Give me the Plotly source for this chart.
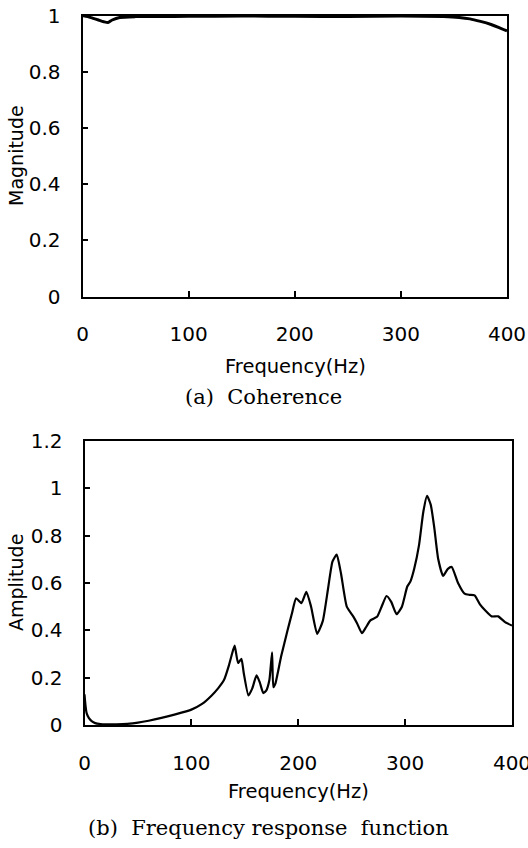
import plotly.graph_objects as go

# ---- Data ----
coh_freq = [0, 5, 10, 15, 20, 24, 28, 35, 50, 100, 150, 200, 250, 300, 340, 355, 365, 375, 385, 392, 400]
coh_mag = [1.0, 0.996, 0.99, 0.984, 0.978, 0.975, 0.984, 0.993, 0.996, 0.997, 0.998, 0.997, 0.996, 0.998,
           0.996, 0.993, 0.988, 0.979, 0.968, 0.958, 0.945]

frf_freq = [0, 1, 2, 4, 7, 10, 15, 20, 30, 40, 50, 60, 72, 85, 100, 110, 119, 125, 130.5, 135, 138, 140.5,
            143.7, 146.8, 149, 153.4, 157, 161, 164, 167.3, 170, 173, 175.5, 176.7, 178.6, 184, 190, 194,
            198, 203, 207.6, 212, 217.7, 223, 228, 232, 236, 240, 245.4, 251.7, 255, 259.6, 263, 267.5,
            273.7, 278, 282.6, 287, 292, 297, 302, 305, 308.5, 313, 317, 320.5, 324, 327.3, 331, 335.5,
            340, 343.6, 349.5, 355.6, 360, 365, 370, 374.6, 381, 387, 393.5, 400]
frf_amp = [0.13, 0.08, 0.05, 0.03, 0.015, 0.008, 0.004, 0.003, 0.003, 0.005, 0.01, 0.018, 0.03, 0.045,
           0.065, 0.089, 0.125, 0.155, 0.19, 0.25, 0.3, 0.335, 0.262, 0.28, 0.22, 0.125, 0.155, 0.21,
           0.18, 0.135, 0.145, 0.19, 0.307, 0.16, 0.175, 0.29, 0.4, 0.47, 0.535, 0.515, 0.563, 0.5,
           0.385, 0.44, 0.58, 0.69, 0.72, 0.64, 0.5, 0.457, 0.43, 0.388, 0.41, 0.442, 0.457, 0.5,
           0.545, 0.52, 0.468, 0.5, 0.585, 0.607, 0.66, 0.76, 0.9, 0.968, 0.93, 0.833, 0.7, 0.63,
           0.66, 0.668, 0.6, 0.555, 0.55, 0.548, 0.51, 0.486, 0.459, 0.459, 0.435, 0.42]

x_ticks = [0, 100, 200, 300, 400]
y1_ticks = [0, 0.2, 0.4, 0.6, 0.8, 1]
y1_labels = ["0", "0.2", "0.4", "0.6", "0.8", "1"]
y2_ticks = [0, 0.2, 0.4, 0.6, 0.8, 1, 1.2]
y2_labels = ["0", "0.2", "0.4", "0.6", "0.8", "1", "1.2"]

W, H = 528, 848
SANS = "DejaVu Sans"
SERIF = "DejaVu Serif"


def fx(px):
    return px / W


def fy(py):
    return 1 - py / H


fig = go.Figure()
fig.add_trace(go.Scatter(x=coh_freq, y=coh_mag, mode="lines",
                         line=dict(color="black", width=3, shape="spline", smoothing=0.6),
                         xaxis="x", yaxis="y", showlegend=False, cliponaxis=False))
fig.add_trace(go.Scatter(x=frf_freq, y=frf_amp, mode="lines",
                         line=dict(color="black", width=2.2, shape="spline", smoothing=0.5),
                         xaxis="x2", yaxis="y2", showlegend=False))

axis_common = dict(showline=True, linecolor="black", linewidth=1.8, mirror=True, ticks="inside",
                   ticklen=6, tickwidth=1.5, tickcolor="black", showgrid=False, zeroline=False,
                   automargin=False, ticklabeloverflow="allow",
                   tickfont=dict(family=SANS, size=20, color="black"))

fig.update_layout(
    width=W, height=H, margin=dict(l=0, r=0, t=0, b=0),
    paper_bgcolor="white", plot_bgcolor="white",
    xaxis=dict(domain=[fx(82.5), fx(507)], anchor="y", range=[0, 400], tickvals=x_ticks,
               ticklabelstandoff=19, **axis_common),
    yaxis=dict(domain=[fy(296.5), fy(15.5)], anchor="x", range=[0, 1], tickvals=y1_ticks,
               ticktext=y1_labels, ticklabelstandoff=16, **axis_common),
    xaxis2=dict(domain=[fx(84.5), fx(512)], anchor="y2", range=[0, 400], tickvals=x_ticks,
                ticklabelstandoff=19, **axis_common),
    yaxis2=dict(domain=[fy(725), fy(441)], anchor="x2", range=[0, 1.2], tickvals=y2_ticks,
                ticktext=y2_labels, ticklabelstandoff=16, **axis_common),
)


def ann(text, x, y, font, size, angle=0):
    fig.add_annotation(text=text, x=fx(x), y=fy(y), xref="paper", yref="paper",
                       xanchor="center", yanchor="middle", showarrow=False, textangle=angle,
                       font=dict(family=font, size=size, color="black"))


ann("Frequency(Hz)", 295, 367, SANS, 19.5)
ann("Magnitude", 16, 156, SANS, 19, -90)
ann("(a)  Coherence", 263, 397, SERIF, 21)
ann("Frequency(Hz)", 298, 791.5, SANS, 19.5)
ann("Amplitude", 16, 583, SANS, 19, -90)
ann("(b)  Frequency response  function", 268, 827.5, SERIF, 21)

# Remove the default 8px body margin so the figure fills the window exactly.
fig.write_html("out.html", config={"displayModeBar": False},
               post_script="document.body.style.margin='0';")
